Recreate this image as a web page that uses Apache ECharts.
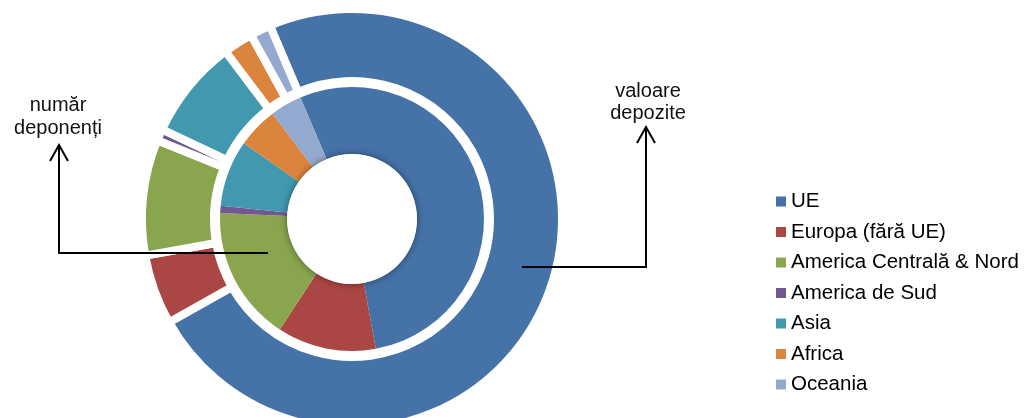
<!DOCTYPE html>
<html>
<head>
<meta charset="utf-8">
<script src="https://cdn.jsdelivr.net/npm/echarts@6/dist/echarts.min.js"></script>
<style>
  html, body { margin: 0; padding: 0; background: #fff; }
  #chart { width: 1024px; height: 418px; }
</style>
</head>
<body>
<div id="chart"></div>
<script>
// regiuni si ponderi (%)
const regions = ['UE', 'Europa (fără UE)', 'America Centrală & Nord', 'America de Sud', 'Asia', 'Africa', 'Oceania']
const deponenti = [53.5, 12.1, 16.5, 0.9, 8.1, 5.0, 3.9]   // inelul interior
const depozite = [73.2, 5.4, 8.9, 0.9, 7.7, 2.3, 1.6]      // inelul exterior
const innerLabel = 'număr\ndeponenți'
const outerLabel = 'valoare\ndepozite'

const palette = ['#4572A7', '#AA4643', '#89A54E', '#71588F', '#4198AF', '#DB843D', '#93A9CF']
const font = '"Liberation Sans", Arial, sans-serif'
const center = [352, 219]

function toData(values) {
  return regions.map((name, i) => ({ name: name, value: values[i] }))
}

const chart = echarts.init(document.getElementById('chart'), null, { renderer: 'canvas' })

chart.setOption({
  animation: false,
  color: palette,
  legend: {
    orient: 'vertical',
    left: 776,
    top: 191,
    padding: 0,
    icon: 'rect',
    itemWidth: 10,
    itemHeight: 10,
    itemGap: 9.5,
    data: regions,
    textStyle: {
      fontFamily: font,
      fontSize: 20.5,
      lineHeight: 20,
      color: '#000'
    }
  },
  series: [
    {
      name: 'număr deponenți',
      type: 'pie',
      center: center,
      radius: [65, 132],
      startAngle: 113,
      label: { show: false },
      labelLine: { show: false },
      emphasis: { disabled: true },
      itemStyle: { borderWidth: 0 },
      data: toData(deponenti)
    },
    {
      name: 'valoare depozite',
      type: 'pie',
      center: center,
      radius: [138, 210],
      startAngle: 113,
      label: { show: false },
      labelLine: { show: false },
      emphasis: { disabled: true },
      itemStyle: { borderWidth: 8, borderColor: '#fff' },
      data: toData(depozite)
    }
  ],
  graphic: [
    // gaura din mijloc, cu umbra
    {
      type: 'circle',
      z: 100,
      shape: { cx: center[0], cy: center[1], r: 65 },
      style: { fill: '#fff', shadowBlur: 7, shadowColor: 'rgba(0,0,0,0.45)' }
    },
    // sageata "numar deponenti"
    {
      type: 'polyline',
      z: 100,
      shape: { points: [[268, 253], [59, 253], [59, 145]] },
      style: { stroke: '#000', lineWidth: 2, fill: null }
    },
    {
      type: 'polyline',
      z: 100,
      shape: { points: [[50, 161], [59, 145], [68, 161]] },
      style: { stroke: '#000', lineWidth: 2, fill: null }
    },
    {
      type: 'text',
      z: 100,
      style: {
        x: 58, y: 94, text: innerLabel, align: 'center',
        font: '20px ' + font, lineHeight: 23, fill: '#111'
      }
    },
    // sageata "valoare depozite"
    {
      type: 'polyline',
      z: 100,
      shape: { points: [[522, 267], [646, 267], [646, 127]] },
      style: { stroke: '#000', lineWidth: 2, fill: null }
    },
    {
      type: 'polyline',
      z: 100,
      shape: { points: [[637, 143], [646, 127], [655, 143]] },
      style: { stroke: '#000', lineWidth: 2, fill: null }
    },
    {
      type: 'text',
      z: 100,
      style: {
        x: 648, y: 80, text: outerLabel, align: 'center',
        font: '20px ' + font, lineHeight: 22, fill: '#111'
      }
    }
  ]
})
</script>
</body>
</html>
